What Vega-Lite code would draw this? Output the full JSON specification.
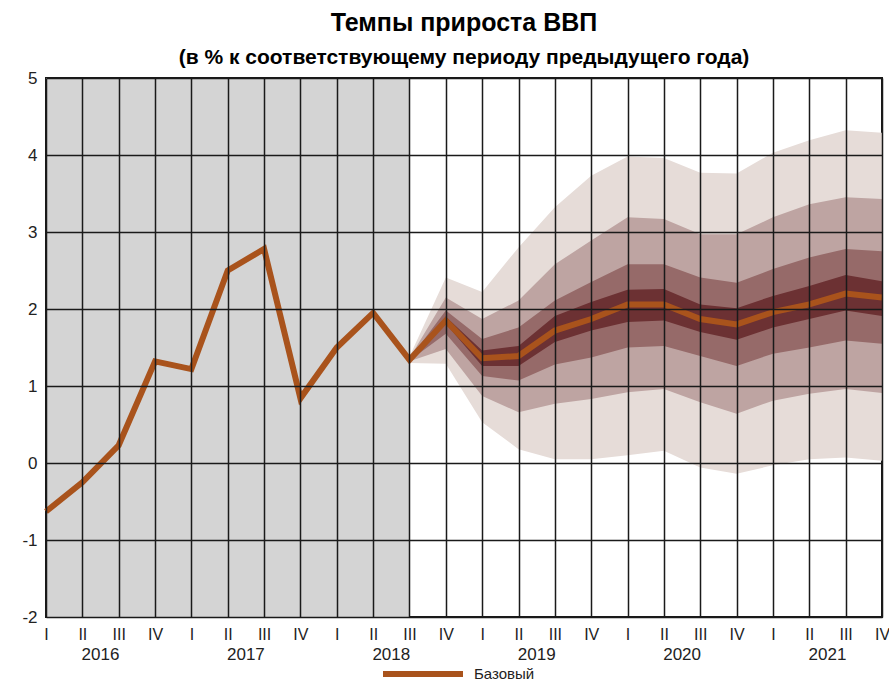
{
  "$schema": "https://vega.github.io/schema/vega-lite/v6.json",
  "width": 836,
  "height": 539,
  "autosize": "none",
  "padding": {"left": 46, "top": 78, "right": 7, "bottom": 66},
  "background": "white",
  "config": {
    "font": "Liberation Sans",
    "view": {"stroke": "#1a1a1a", "strokeWidth": 2},
    "legend": {"padding": 0}
  },
  "title": {
    "text": "Темпы прироста ВВП",
    "subtitle": "(в % к соответствующему периоду предыдущего года)",
    "anchor": "middle",
    "fontSize": 25,
    "fontWeight": "bold",
    "subtitleFontSize": 21,
    "subtitleFontWeight": "bold",
    "subtitleColor": "black",
    "color": "black",
    "subtitlePadding": 11,
    "offset": 1
  },
  "datasets": {
    "gdp": [
      {"t": 0, "gdp": -0.63},
      {"t": 1, "gdp": -0.25},
      {"t": 2, "gdp": 0.23},
      {"t": 3, "gdp": 1.32},
      {"t": 4, "gdp": 1.22},
      {"t": 5, "gdp": 2.5},
      {"t": 6, "gdp": 2.78},
      {"t": 7, "gdp": 0.84},
      {"t": 8, "gdp": 1.5},
      {"t": 9, "gdp": 1.95},
      {"t": 10, "gdp": 1.34, "b1lo": 1.3, "b1hi": 1.38, "b2lo": 1.32, "b2hi": 1.36, "b3lo": 1.33, "b3hi": 1.35, "b4lo": 1.34, "b4hi": 1.34},
      {"t": 11, "gdp": 1.85, "b1lo": 1.29, "b1hi": 2.41, "b2lo": 1.48, "b2hi": 2.15, "b3lo": 1.68, "b3hi": 1.98, "b4lo": 1.81, "b4hi": 1.9},
      {"t": 12, "gdp": 1.36, "b1lo": 0.53, "b1hi": 2.22, "b2lo": 0.87, "b2hi": 1.87, "b3lo": 1.13, "b3hi": 1.61, "b4lo": 1.26, "b4hi": 1.46},
      {"t": 13, "gdp": 1.39, "b1lo": 0.18, "b1hi": 2.8, "b2lo": 0.66, "b2hi": 2.11, "b3lo": 1.07, "b3hi": 1.76, "b4lo": 1.26, "b4hi": 1.52},
      {"t": 14, "gdp": 1.72, "b1lo": 0.05, "b1hi": 3.32, "b2lo": 0.77, "b2hi": 2.58, "b3lo": 1.28, "b3hi": 2.11, "b4lo": 1.57, "b4hi": 1.91},
      {"t": 15, "gdp": 1.87, "b1lo": 0.05, "b1hi": 3.73, "b2lo": 0.83, "b2hi": 2.89, "b3lo": 1.37, "b3hi": 2.35, "b4lo": 1.72, "b4hi": 2.09},
      {"t": 16, "gdp": 2.06, "b1lo": 0.1, "b1hi": 3.98, "b2lo": 0.92, "b2hi": 3.19, "b3lo": 1.5, "b3hi": 2.58, "b4lo": 1.83, "b4hi": 2.25},
      {"t": 17, "gdp": 2.06, "b1lo": 0.16, "b1hi": 3.96, "b2lo": 0.96, "b2hi": 3.17, "b3lo": 1.52, "b3hi": 2.58, "b4lo": 1.85, "b4hi": 2.26},
      {"t": 18, "gdp": 1.87, "b1lo": -0.06, "b1hi": 3.77, "b2lo": 0.79, "b2hi": 2.97, "b3lo": 1.39, "b3hi": 2.41, "b4lo": 1.7, "b4hi": 2.06},
      {"t": 19, "gdp": 1.8, "b1lo": -0.14, "b1hi": 3.76, "b2lo": 0.64, "b2hi": 2.97, "b3lo": 1.26, "b3hi": 2.34, "b4lo": 1.6, "b4hi": 2.01},
      {"t": 20, "gdp": 1.96, "b1lo": -0.03, "b1hi": 4.03, "b2lo": 0.81, "b2hi": 3.19, "b3lo": 1.42, "b3hi": 2.52, "b4lo": 1.76, "b4hi": 2.17},
      {"t": 21, "gdp": 2.06, "b1lo": 0.05, "b1hi": 4.19, "b2lo": 0.9, "b2hi": 3.36, "b3lo": 1.5, "b3hi": 2.67, "b4lo": 1.87, "b4hi": 2.3},
      {"t": 22, "gdp": 2.2, "b1lo": 0.07, "b1hi": 4.32, "b2lo": 0.96, "b2hi": 3.45, "b3lo": 1.59, "b3hi": 2.78, "b4lo": 1.98, "b4hi": 2.44},
      {"t": 23, "gdp": 2.15, "b1lo": 0.03, "b1hi": 4.29, "b2lo": 0.91, "b2hi": 3.43, "b3lo": 1.55, "b3hi": 2.75, "b4lo": 1.91, "b4hi": 2.36}
    ],
    "shade": [{"t0": 0, "t1": 10, "lo": -2, "hi": 5}],
    "years": [
      {"year": "2016", "t": 1.5},
      {"year": "2017", "t": 5.5},
      {"year": "2018", "t": 9.5},
      {"year": "2019", "t": 13.5},
      {"year": "2020", "t": 17.5},
      {"year": "2021", "t": 21.5}
    ]
  },
  "data": {"name": "gdp"},
  "encoding": {
    "x": {
      "field": "t",
      "type": "quantitative",
      "scale": {"domain": [0, 23], "nice": false, "zero": false},
      "axis": {
        "title": null,
        "zindex": 1,
        "values": [0,1,2,3,4,5,6,7,8,9,10,11,12,13,14,15,16,17,18,19,20,21,22,23],
        "labelExpr": "['I','II','III','IV'][datum.value % 4]",
        "ticks": false,
        "domain": false,
        "labelPadding": 9,
        "labelFontSize": 16,
        "labelColor": "#222",
        "labelFlush": false,
        "labelOverlap": false,
        "grid": true,
        "gridColor": "#1a1a1a",
        "gridWidth": 1.5,
        "gridOpacity": 1
      }
    }
  },
  "layer": [
    {
      "data": {"name": "shade"},
      "mark": {"type": "rect", "color": "#d4d4d4"},
      "encoding": {
        "x": {"field": "t0", "type": "quantitative"},
        "x2": {"field": "t1"},
        "y": {"field": "lo", "type": "quantitative", "scale": {"domain": [-2, 5], "nice": false, "zero": false},
          "axis": {
            "title": null,
            "zindex": 1,
            "values": [-2,-1,0,1,2,3,4,5],
            "labelExpr": "'' + datum.value",
            "ticks": false,
            "domain": false,
            "labelPadding": 9,
            "labelFontSize": 17,
            "labelColor": "#222",
            "labelFlush": false,
            "grid": true,
            "gridColor": "#1a1a1a",
            "gridWidth": 1.5,
            "gridOpacity": 1
          }},
        "y2": {"field": "hi"}
      }
    },
    {
      "transform": [{"filter": "isValid(datum.b1lo)"}],
      "mark": {"type": "area", "color": "#e6dcd8", "opacity": 1},
      "encoding": {
        "y": {"field": "b1lo", "type": "quantitative"},
        "y2": {"field": "b1hi"}
      }
    },
    {
      "transform": [{"filter": "isValid(datum.b2lo)"}],
      "mark": {"type": "area", "color": "#bea4a2", "opacity": 1},
      "encoding": {
        "y": {"field": "b2lo", "type": "quantitative"},
        "y2": {"field": "b2hi"}
      }
    },
    {
      "transform": [{"filter": "isValid(datum.b3lo)"}],
      "mark": {"type": "area", "color": "#966a69", "opacity": 1},
      "encoding": {
        "y": {"field": "b3lo", "type": "quantitative"},
        "y2": {"field": "b3hi"}
      }
    },
    {
      "transform": [{"filter": "isValid(datum.b4lo)"}],
      "mark": {"type": "area", "color": "#6c3133", "opacity": 1},
      "encoding": {
        "y": {"field": "b4lo", "type": "quantitative"},
        "y2": {"field": "b4hi"}
      }
    },
    {
      "mark": {"type": "line", "strokeWidth": 6, "strokeJoin": "miter"},
      "encoding": {
        "y": {"field": "gdp", "type": "quantitative"},
        "color": {
          "datum": "Базовый",
          "type": "nominal",
          "scale": {"domain": ["Базовый"], "range": ["#a9531c"]},
          "legend": {
            "title": null,
            "orient": "none",
            "legendX": 334,
            "legendY": 553,
            "symbolType": "stroke",
            "symbolSize": 6400,
            "symbolStrokeWidth": 6,
            "labelFontSize": 15,
            "labelColor": "#222",
            "labelOffset": 8
          }
        }
      }
    },
    {
      "data": {"name": "years"},
      "mark": {"type": "text", "fontSize": 17, "color": "#222", "dy": 38, "baseline": "middle"},
      "encoding": {
        "x": {"field": "t", "type": "quantitative"},
        "y": {"datum": -2},
        "text": {"field": "year"}
      }
    }
  ]
}
